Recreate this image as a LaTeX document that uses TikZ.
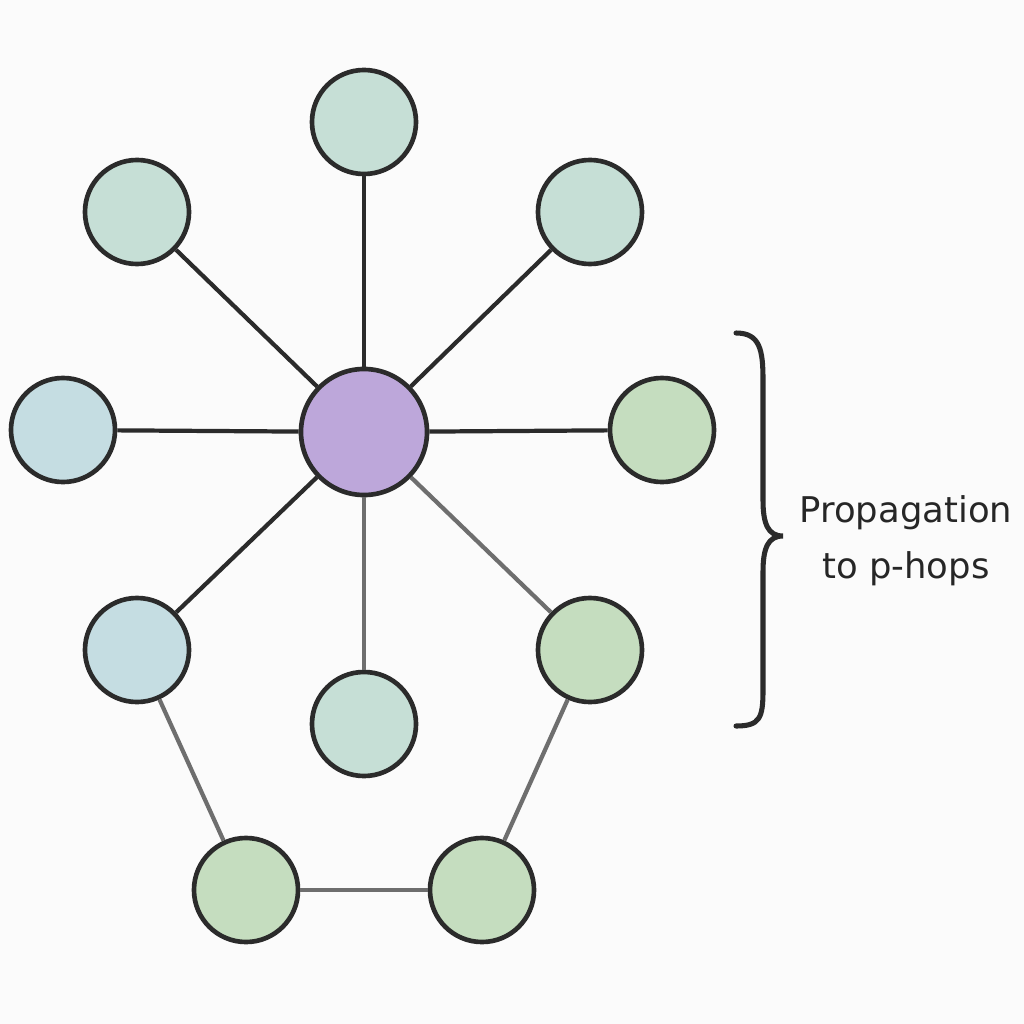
\documentclass[tikz,border=0pt]{standalone}
\usepackage{fontspec}
\setmainfont{DejaVu Sans}
\definecolor{bgc}{HTML}{FBFBFB}
\definecolor{outl}{HTML}{2B2B2B}
\definecolor{grayedge}{HTML}{6E6E6E}
\definecolor{purp}{HTML}{BDA7DA}
\definecolor{mint}{HTML}{C6DFD6}
\definecolor{lblue}{HTML}{C5DDE2}
\definecolor{lgreen}{HTML}{C5DDBF}
\begin{document}
\begin{tikzpicture}[x=0.025cm,y=-0.025cm,
  vert/.style={circle,draw=outl,line width=3.3pt,minimum size=2.6cm,inner sep=0pt},
  hub/.style={vert,minimum size=3.15cm,fill=purp},
  darkedge/.style={draw=outl,line width=3pt},
  lightedge/.style={draw=grayedge,line width=3pt},
  lbl/.style={anchor=base,font=\fontsize{25.2}{30}\selectfont,text=black!85}]
\fill[bgc] (0,0) rectangle (1024,1024);
\useasboundingbox (0,0) rectangle (1024,1024);
\node[hub] (c) at (364,432) {};
\node[vert,fill=mint] (top) at (364,122) {};
\node[vert,fill=mint] (tl) at (137,212) {};
\node[vert,fill=mint] (tr) at (590,212) {};
\node[vert,fill=lblue] (left) at (63,430) {};
\node[vert,fill=lgreen] (right) at (662,430) {};
\node[vert,fill=lblue] (ll) at (137,650) {};
\node[vert,fill=mint] (lm) at (364,724) {};
\node[vert,fill=lgreen] (lr) at (590,650) {};
\node[vert,fill=lgreen] (bl) at (246,890) {};
\node[vert,fill=lgreen] (br) at (482,890) {};
\draw[darkedge] (c) -- (top);
\draw[darkedge] (c) -- (tl);
\draw[darkedge] (c) -- (tr);
\draw[darkedge] (c) -- (left);
\draw[darkedge] (c) -- (right);
\draw[darkedge] (c) -- (ll);
\draw[lightedge] (c) -- (lm);
\draw[lightedge] (c) -- (lr);
\draw[lightedge] (ll) -- (bl);
\draw[lightedge] (bl) -- (br);
\draw[lightedge] (br) -- (lr);
\draw[outl,line width=3.6pt,line cap=round]
  (736,333) .. controls (760,333) and (763,350) .. (763,380)
  -- (763,500) .. controls (763,524) and (768,536) .. (783,536)
  .. controls (768,536) and (763,548) .. (763,572)
  -- (763,690) .. controls (763,718) and (760,726) .. (736,726);
\node[lbl] (t1) at (906,522) {Propagation};
\node[lbl] (t2) at (906,578) {to p-hops};
\end{tikzpicture}
\end{document}
